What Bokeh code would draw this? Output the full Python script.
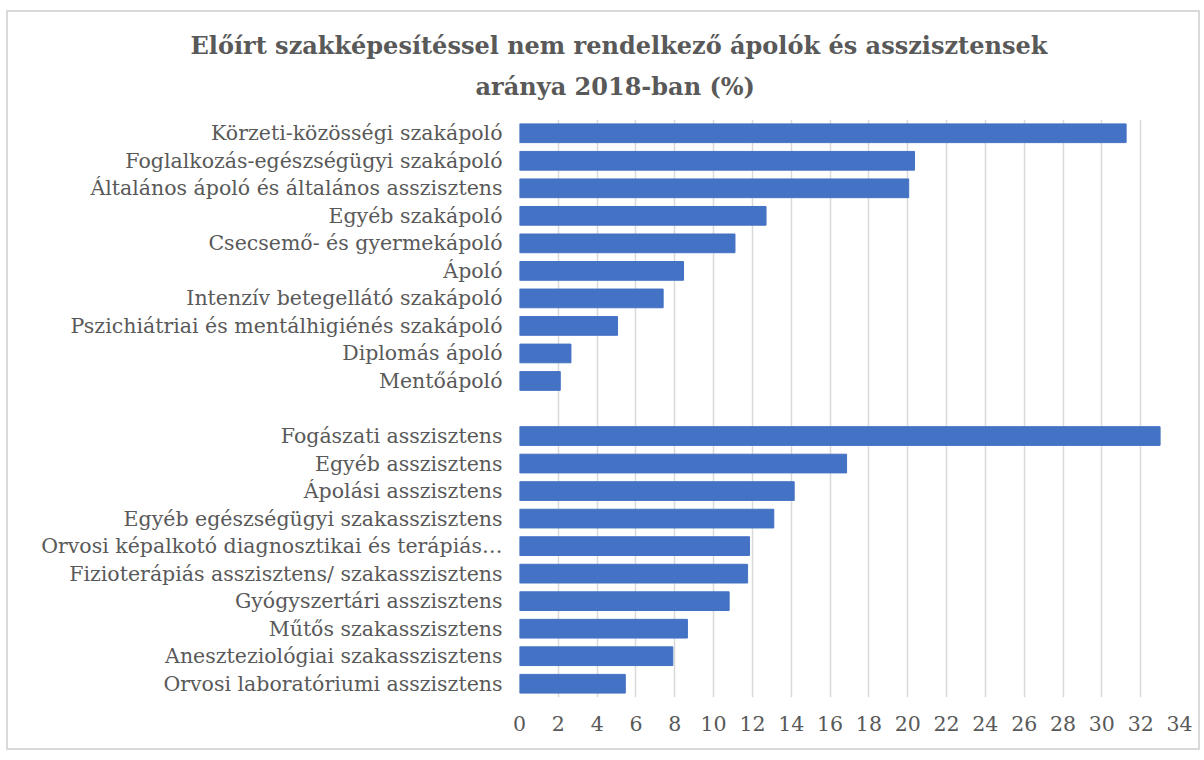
from bokeh.plotting import figure
from bokeh.models import ColumnDataSource, FactorRange, Range1d, Title, SingleIntervalTicker
from bokeh.embed import file_html
from bokeh.resources import INLINE

title_lines = ["Előírt szakképesítéssel nem rendelkező ápolók és asszisztensek",
               "aránya 2018-ban (%)"]

nurse_categories = [
    "Körzeti-közösségi szakápoló",
    "Foglalkozás-egészségügyi szakápoló",
    "Általános ápoló és általános asszisztens",
    "Egyéb szakápoló",
    "Csecsemő- és gyermekápoló",
    "Ápoló",
    "Intenzív betegellátó szakápoló",
    "Pszichiátriai és mentálhigiénés szakápoló",
    "Diplomás ápoló",
    "Mentőápoló",
]
nurse_values = [31.25, 20.35, 20.05, 12.7, 11.1, 8.45, 7.4, 5.05, 2.65, 2.1]

assistant_categories = [
    "Fogászati asszisztens",
    "Egyéb asszisztens",
    "Ápolási asszisztens",
    "Egyéb egészségügyi szakasszisztens",
    "Orvosi képalkotó diagnosztikai és terápiás…",
    "Fizioterápiás asszisztens/ szakasszisztens",
    "Gyógyszertári asszisztens",
    "Műtős szakasszisztens",
    "Aneszteziológiai szakasszisztens",
    "Orvosi laboratóriumi asszisztens",
]
assistant_values = [33.0, 16.85, 14.15, 13.1, 11.85, 11.75, 10.8, 8.65, 7.9, 5.45]

gap_label = " "
x_max = 34
x_tick_step = 2

rows_top_down = nurse_categories + [gap_label] + assistant_categories
factors = list(reversed(rows_top_down))

source = ColumnDataSource(dict(
    cat=nurse_categories + assistant_categories,
    val=nurse_values + assistant_values,
))

FONT = "DejaVu Serif"
TXT = "#595959"

p = figure(width=1194, height=740, y_range=FactorRange(*factors, range_padding=0),
           x_range=Range1d(0, x_max), output_backend="svg", toolbar_location=None,
           min_border_left=511, min_border_right=23, min_border_top=107, min_border_bottom=55)
p.styles = {"border": "2px solid #d9d9d9", "margin-top": "10px", "margin-left": "6px"}

p.hbar(y="cat", right="val", left=0, height=0.68, source=source,
       fill_color="#4472C4", line_color="#4472C4")

p.outline_line_color = None
p.ygrid.grid_line_color = None
p.xgrid.grid_line_color = "#d9d9d9"
p.xgrid.grid_line_width = 1.5
p.xaxis.ticker = SingleIntervalTicker(interval=x_tick_step)

for ax in (p.xaxis, p.yaxis):
    ax.axis_line_color = None
    ax.major_tick_line_color = None
    ax.minor_tick_line_color = None
    ax.major_tick_out = 0
    ax.major_tick_in = 0
    ax.major_label_text_font = FONT
    ax.major_label_text_color = TXT
    ax.major_label_text_font_size = "20.5px"

p.yaxis.major_label_standoff = 17
p.xaxis.major_label_standoff = 14

# bottom line first so the first line ends up on top
p.add_layout(Title(text=title_lines[1], align="left", offset=-44, standoff=38,
                   text_line_height=0.8,
                   text_font=FONT, text_font_style="bold", text_font_size="24px",
                   text_color=TXT), "above")
p.add_layout(Title(text=title_lines[0], align="left", offset=-329, standoff=-18,
                   text_font=FONT, text_font_style="bold", text_font_size="24px",
                   text_color=TXT), "above")
# small empty spacer at the very top
p.add_layout(Title(text=" ", text_font_size="1px", standoff=4), "above")

open("out.html", "w").write(file_html(p, INLINE))
